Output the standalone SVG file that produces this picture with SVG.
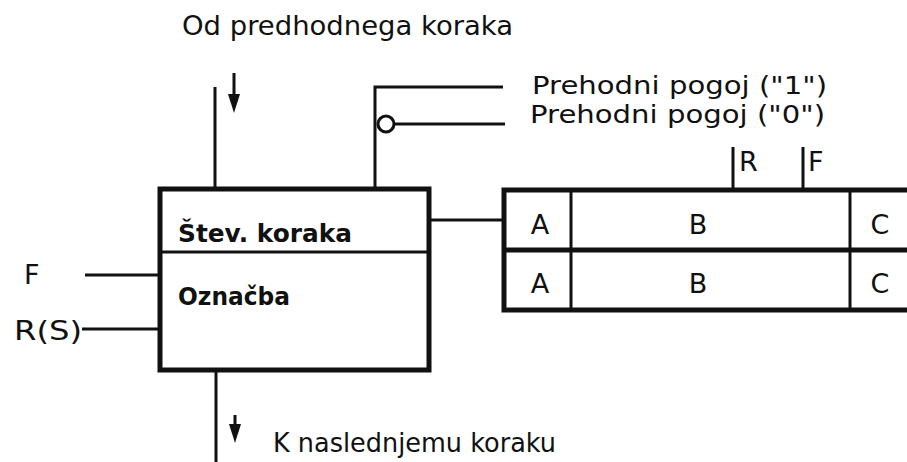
<svg xmlns="http://www.w3.org/2000/svg" width="907" height="462" viewBox="0 0 907 462">
<defs>
<style>
.t{font-family:"DejaVu Sans","Liberation Sans",sans-serif;font-size:27px;fill:#111;}
.s{font-family:"DejaVu Sans","Liberation Sans",sans-serif;font-size:25px;fill:#111;}
.b{font-family:"DejaVu Sans","Liberation Sans",sans-serif;font-size:25px;font-weight:bold;fill:#111;}
.ln{stroke:#111;stroke-width:3;fill:none;}
.thick{stroke:#111;stroke-width:5;fill:none;}
.ah{fill:#111;}
</style>
</defs>
<rect width="907" height="462" fill="#fff"/>
<g id="labels">
<text class="t" x="182" y="35" textLength="331" lengthAdjust="spacingAndGlyphs">Od predhodnega koraka</text>
<text class="s" x="532" y="94" textLength="295" lengthAdjust="spacingAndGlyphs">Prehodni pogoj ("1")</text>
<text class="s" x="530" y="123" textLength="295" lengthAdjust="spacingAndGlyphs">Prehodni pogoj ("0")</text>
<text class="t" x="739" y="171">R</text>
<text class="t" x="808" y="171">F</text>
<text class="t" x="24" y="284">F</text>
<text class="t" x="14" y="340" textLength="68" lengthAdjust="spacingAndGlyphs">R(S)</text>
<text class="t" x="273" y="452" textLength="283" lengthAdjust="spacingAndGlyphs">K naslednjemu koraku</text>
</g>
<g id="connectors">
<line class="ln" x1="215" y1="87" x2="215" y2="189"/>
<line class="ln" x1="234" y1="73" x2="234" y2="98"/>
<polygon class="ah" points="228,94 240,94 234,113"/>
<polyline class="ln" points="503,87 375,87 375,189"/>
<circle class="ln" cx="386" cy="124" r="8"/>
<line class="ln" x1="394" y1="124" x2="505" y2="124"/>
<line class="ln" x1="733" y1="147" x2="733" y2="190"/>
<line class="ln" x1="803" y1="147" x2="803" y2="190"/>
<line class="ln" x1="429" y1="220" x2="504" y2="220"/>
<line class="ln" x1="85" y1="275" x2="160" y2="275"/>
<line class="ln" x1="82" y1="329" x2="160" y2="329"/>
<line class="ln" x1="216" y1="370" x2="216" y2="462"/>
<line class="ln" x1="235" y1="415" x2="235" y2="428"/>
<polygon class="ah" points="229,424 241,424 235,443"/>
</g>
<g id="step-box">
<rect class="thick" x="160" y="189" width="269" height="181"/>
<line class="ln" x1="160" y1="252" x2="429" y2="252"/>
<text class="b" x="178" y="242" textLength="174" lengthAdjust="spacingAndGlyphs">Štev. koraka</text>
<text class="b" x="178" y="305" textLength="112" lengthAdjust="spacingAndGlyphs">Označba</text>
</g>
<g id="table">
<rect class="thick" x="504" y="190" width="412" height="120"/>
<line class="thick" x1="504" y1="250" x2="912" y2="250"/>
<line class="ln" x1="571" y1="190" x2="571" y2="310"/>
<line class="ln" x1="850" y1="190" x2="850" y2="310"/>
<text class="t" x="540" y="234" text-anchor="middle">A</text>
<text class="t" x="698" y="234" text-anchor="middle">B</text>
<text class="t" x="880" y="234" text-anchor="middle">C</text>
<text class="t" x="540" y="293" text-anchor="middle">A</text>
<text class="t" x="698" y="293" text-anchor="middle">B</text>
<text class="t" x="880" y="293" text-anchor="middle">C</text>
</g>
</svg>
